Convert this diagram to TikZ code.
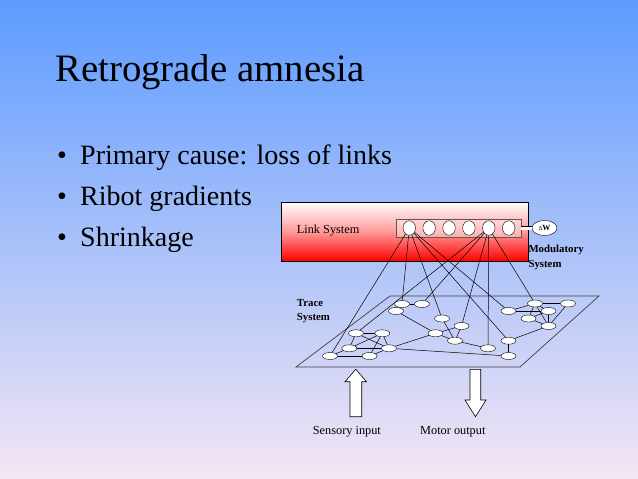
\documentclass[tikz,border=0pt]{standalone}
\usepackage{fontspec}
\setmainfont{Liberation Serif}
\usetikzlibrary{shapes.geometric}
\definecolor{skytop}{RGB}{92,155,255}
\definecolor{skymid}{RGB}{168,204,244}
\definecolor{skybot}{RGB}{244,230,244}
\begin{document}
\begin{tikzpicture}[
        x=1pt, y=-1pt,
        unit/.style={ellipse, draw, fill=white, minimum width=12.5pt, minimum height=14.5pt, inner sep=0pt}, % Link units
        cell/.style={ellipse, draw, fill=white, minimum width=15pt, minimum height=7pt, inner sep=0pt}, % Trace units
        link/.style={line width=0.5pt},
        item/.style={anchor=base west, inner sep=0pt, font=\fontsize{28}{34}\selectfont},
        small/.style={anchor=base west, inner sep=0pt, font=\fontsize{12.3}{14}\selectfont},
        tag/.style={anchor=base west, inner sep=0pt, font=\bfseries\fontsize{10.8}{13}\selectfont},
    ]

    % background
    \fill[top color=skytop, middle color=skymid, bottom color=skybot] (0,0) rectangle (638,479);

    \node[anchor=base west, inner sep=0pt, font=\fontsize{38.8}{46}\selectfont] (title) at (55,81) {Retrograde amnesia};
    \node[item] (b1) at (57,164) {\makebox[23pt][l]{•}Primary cause: loss of links};
    \node[item] (b2) at (57,205) {\makebox[23pt][l]{•}Ribot gradients};
    \node[item] (b3) at (57,246) {\makebox[23pt][l]{•}Shrinkage};

    % link system
    \node[draw, line width=0.8pt, top color=white, bottom color=red, middle color=red!40!white,
        minimum width=247pt, minimum height=59pt, inner sep=0pt] (linkbox) at (404.5,231.5) {};
    \node[small] (linklbl) at (296.7,233) {Link System};
    \node[draw=gray!70!black, fill=white, fill opacity=0.35, minimum width=125pt, minimum height=18pt, inner sep=0pt] (bank) at (458.5,228) {};
    \foreach \i in {1,...,6}
        \node[unit] (c\i) at ({389.4+19.88*\i},228) {};

    % modulatory system
    \node[ellipse, draw, fill=white, minimum width=25pt, minimum height=15pt, inner sep=0pt] (dw) at (544.5,228)
        {{\fontsize{6}{7}\selectfont Δ}{\bfseries\fontsize{8}{9}\selectfont W}};
    \draw[double, double distance=3pt] (bank.east) -- (dw.west);
    \node[tag] (mod1) at (528.3,252) {Modulatory};
    \node[tag] (mod2) at (528.3,267.5) {System};

    % trace system
    \draw[black!75, line width=0.7pt] (390,296) -- (599,296) -- (520,367) -- (296,367) -- cycle;
    \node[tag] (tr1) at (296.7,306) {Trace};
    \node[tag] (tr2) at (296.7,320) {System};

    \node[cell] (A) at (402,304) {};
    \node[cell] (B) at (422,304) {};
    \node[cell] (C) at (396,311) {};
    \node[cell] (D) at (442,318.5) {};
    \node[cell] (E) at (461.5,326) {};
    \node[cell] (F) at (435.5,333.3) {};
    \node[cell] (G) at (455,340.7) {};
    \node[cell] (H) at (356,333.3) {};
    \node[cell] (I) at (382.3,333.3) {};
    \node[cell] (J) at (349.3,348.3) {};
    \node[cell] (K) at (389,348.3) {};
    \node[cell] (L) at (330,356) {};
    \node[cell] (M) at (369.5,356) {};
    \node[cell] (N) at (488,348.3) {};
    \node[cell] (O) at (508.5,340.7) {};
    \node[cell] (P) at (508.5,356) {};
    \node[cell] (Q) at (508.5,311) {};
    \node[cell] (R) at (535,303.5) {};
    \node[cell] (S) at (568,303.5) {};
    \node[cell] (T) at (548.5,311) {};
    \node[cell] (U) at (528.5,318.5) {};
    \node[cell] (V) at (548.5,326) {};

    \foreach \a/\b in {A/B, A/C, C/F, D/G, E/G, E/F, F/G, F/K, G/N, K/P, O/P, O/V,
            Q/R, Q/T, R/S, R/T, R/U, R/V, S/V, T/U, T/V, U/V,
            H/I, H/J, H/K, I/J, I/K, I/M, J/K, J/L, L/M, M/K}
        \draw[link] (\a) -- (\b);
    \foreach \b in {L, A, D, O, Q}
        \draw[link] (c1) -- (\b);
    \foreach \b in {H, B, E, N, R}
        \draw[link] (c5) -- (\b);

    % input and output
    \draw[fill=white, line width=0.6pt] (350,416.7) -- (350,381.7) -- (345,381.7) -- (355.8,369.3)
        -- (366.5,381.7) -- (361.7,381.7) -- (361.7,416.7) -- cycle;
    \draw[fill=white, line width=0.6pt] (470,369.3) -- (470,400) -- (465,400) -- (475.5,416.7)
        -- (486,400) -- (480.7,400) -- (480.7,369.3) -- cycle;
    \node[small] (inlbl) at (312.7,434) {Sensory input};
    \node[small] (outlbl) at (420,434) {Motor output};

\end{tikzpicture}
\end{document}
